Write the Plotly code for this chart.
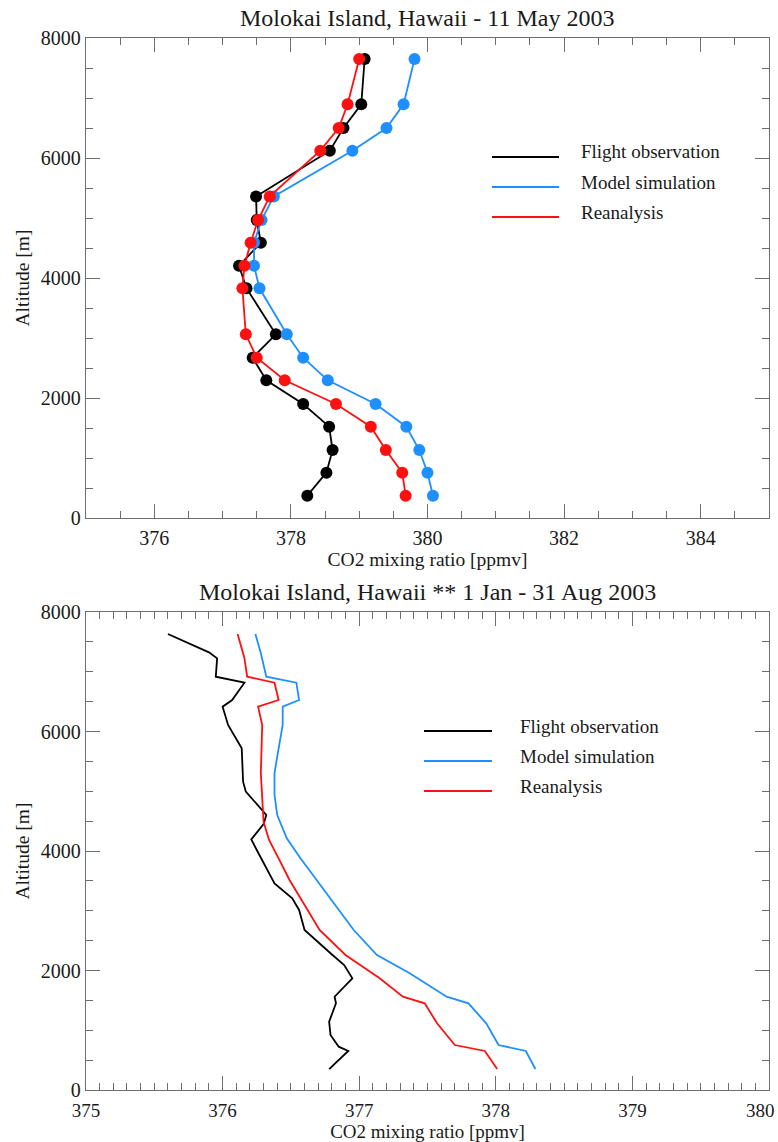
import plotly.graph_objects as go

W, H = 778, 1142

# ---- Panel 1: single flight, Molokai Island, 11 May 2003 ----
alt_flight = [372, 755, 1133, 1522, 1900, 2295, 2672, 3062, 3828, 4205,
              4588, 4967, 5360, 6122, 6500, 6895, 7650]
obs_flight = [378.24, 378.52, 378.61, 378.56, 378.18, 377.64, 377.44, 377.78,
              377.35, 377.24, 377.56, 377.50, 377.49, 378.57, 378.77, 379.03, 379.08]
model_flight = [380.08, 380.00, 379.88, 379.69, 379.24, 378.54, 378.18, 377.94,
                377.54, 377.46, 377.46, 377.57, 377.75, 378.90, 379.40, 379.65, 379.81]
rean_flight = [379.68, 379.63, 379.39, 379.17, 378.66, 377.91, 377.50, 377.34,
               377.29, 377.32, 377.41, 377.52, 377.69, 378.43, 378.70, 378.83, 379.00]

# ---- Panel 2: Jan-Aug 2003 mean profiles ----
alt_obs_mean = [351, 653, 725, 920, 1143, 1451, 1562, 1869, 2092, 2288, 2678,
                3013, 3208, 3459, 4017, 4195, 4452, 4603, 4993, 5160, 5718,
                6109, 6415, 6527, 6817, 6917, 7225, 7325, 7632]
obs_mean = [376.78, 376.92, 376.85, 376.79, 376.78, 376.83, 376.82, 376.95,
            376.89, 376.79, 376.60, 376.56, 376.51, 376.38, 376.25, 376.21,
            376.30, 376.32, 376.17, 376.15, 376.14, 376.04, 376.00, 376.07,
            376.16, 375.95, 375.96, 375.90, 375.60]

alt_model_mean = [351, 653, 753, 1116, 1451, 1562, 1953, 2259, 2678, 3459,
                  3878, 4212, 4603, 4937, 5300, 5578, 6109, 6415, 6527, 6817,
                  6917, 7309, 7632]
model_mean = [378.29, 378.22, 378.02, 377.93, 377.80, 377.64, 377.37, 377.13,
              376.96, 376.71, 376.57, 376.47, 376.40, 376.38, 376.38, 376.40,
              376.44, 376.44, 376.56, 376.54, 376.32, 376.28, 376.24]

alt_rean_mean = [351, 653, 753, 1116, 1451, 1562, 1869, 2259, 2678, 3515,
                 3878, 4184, 4490, 4854, 5300, 6109, 6415, 6527, 6817, 6917,
                 7225, 7632]
rean_mean = [378.01, 377.92, 377.70, 377.57, 377.48, 377.32, 377.15, 376.90,
             376.71, 376.49, 376.41, 376.34, 376.30, 376.29, 376.28, 376.29,
             376.26, 376.41, 376.38, 376.18, 376.16, 376.11]

series_names = ["Flight observation", "Model simulation", "Reanalysis"]
series_colors = ["#000000", "#1e8fff", "#ff1010"]

# bottom-panel x tick labels; the last one sits at the page edge and is
# drawn separately so it stays fully inside the page
x2_tickvals = [375, 376, 377, 378, 379, 380]
x2_ticktext = ["375", "376", "377", "378", "379", "380"]

title_top = "Molokai Island, Hawaii - 11 May 2003"
title_bottom = "Molokai Island, Hawaii ** 1 Jan - 31 Aug 2003"
x_title = "CO2 mixing ratio [ppmv]"
y_title = "Altitude [m]"

FONT = "Liberation Serif"
TEXT_COLOR = "#1a1a1a"
AXIS_COLOR = "#6e6e6e"


def px_x(p):
    return p / W


def px_y(p):
    return 1 - p / H


fig = go.Figure()

# panel 1 traces: lines with filled circle markers
for xs, name, color in zip([obs_flight, model_flight, rean_flight], series_names, series_colors):
    fig.add_trace(go.Scatter(
        x=xs, y=alt_flight, mode="lines+markers", name=name,
        line=dict(color=color, width=1.8),
        marker=dict(color=color, size=12),
        xaxis="x", yaxis="y", showlegend=False,
    ))

# panel 2 traces: lines only
for xs, ys, name, color in zip([obs_mean, model_mean, rean_mean],
                               [alt_obs_mean, alt_model_mean, alt_rean_mean],
                               series_names, series_colors):
    fig.add_trace(go.Scatter(
        x=xs, y=ys, mode="lines", name=name,
        line=dict(color=color, width=1.8),
        xaxis="x2", yaxis="y2", showlegend=False,
    ))

x_dom = [px_x(86), px_x(769)]
common_axis = dict(
    showline=True, linecolor=AXIS_COLOR, linewidth=1.3, mirror="allticks",
    ticks="inside", tickcolor=AXIS_COLOR, tickwidth=1.2, ticklen=14,
    showgrid=False, zeroline=False, automargin=False,
    ticklabeloverflow="allow",
    tickfont=dict(family=FONT, size=20, color=TEXT_COLOR),
)
minor_common = dict(ticklen=7, ticks="inside", tickcolor=AXIS_COLOR, tickwidth=1.2)
title_font = dict(family=FONT, size=19.5, color=TEXT_COLOR)
x2_font = dict(family=FONT, size=19, color=TEXT_COLOR)

fig.update_layout(
    width=W, height=H,
    margin=dict(l=0, r=0, t=0, b=0),
    paper_bgcolor="white", plot_bgcolor="white",
    font=dict(family=FONT, color=TEXT_COLOR),
    xaxis=dict(common_axis, domain=x_dom, anchor="y", range=[375, 385],
               tick0=376, dtick=2, minor=dict(minor_common, dtick=0.5),
               ticklabelstandoff=2,
               title=dict(text=x_title, font=title_font, standoff=2)),
    yaxis=dict(common_axis, domain=[px_y(518), px_y(38)], anchor="x", range=[0, 8000],
               dtick=2000, minor=dict(minor_common, dtick=500),
               title=dict(text=y_title, font=title_font, standoff=6)),
    xaxis2=dict(common_axis, domain=x_dom, anchor="y2", range=[375, 380.0001],
                tickmode="array", tickvals=x2_tickvals,
                ticktext=x2_ticktext[:-1] + [""],
                minor=dict(minor_common, dtick=0.1, tick0=375),
                tickfont=x2_font, ticklabelstandoff=3,
                title=dict(text=x_title, font=dict(title_font, size=19), standoff=1)),
    yaxis2=dict(common_axis, domain=[px_y(1090), px_y(612)], anchor="x2", range=[0, 8000],
                dtick=2000, minor=dict(minor_common, dtick=500),
                title=dict(text=y_title, font=title_font, standoff=6)),
)

# right-most bottom tick label, pulled in against the page edge
fig.add_annotation(text=x2_ticktext[-1], x=px_x(777), y=px_y(1110), xref="paper", yref="paper",
                   xanchor="right", yanchor="middle", showarrow=False, font=x2_font)

# panel titles
for text, ypix in [(title_top, 18), (title_bottom, 592)]:
    fig.add_annotation(text=text, x=px_x(427), y=px_y(ypix), xref="paper", yref="paper",
                       xanchor="center", yanchor="middle", showarrow=False,
                       font=dict(family=FONT, size=24, color=TEXT_COLOR))

# hand-drawn legends (long line samples with text to the right)
legend_boxes = [
    dict(x0=492, x1=559, xt=579, ys=[157, 187, 217]),
    dict(x0=424, x1=492, xt=518, ys=[731, 761, 791]),
]
for box in legend_boxes:
    for name, color, yl in zip(series_names, series_colors, box["ys"]):
        fig.add_shape(type="line", xref="paper", yref="paper",
                      x0=px_x(box["x0"]), x1=px_x(box["x1"]),
                      y0=px_y(yl), y1=px_y(yl),
                      line=dict(color=color, width=1.8))
        fig.add_annotation(text=name, x=px_x(box["xt"]), y=px_y(yl - 5),
                           xref="paper", yref="paper", xanchor="left", yanchor="middle",
                           showarrow=False,
                           font=dict(family=FONT, size=19, color=TEXT_COLOR))

fig.write_html("out.html")
